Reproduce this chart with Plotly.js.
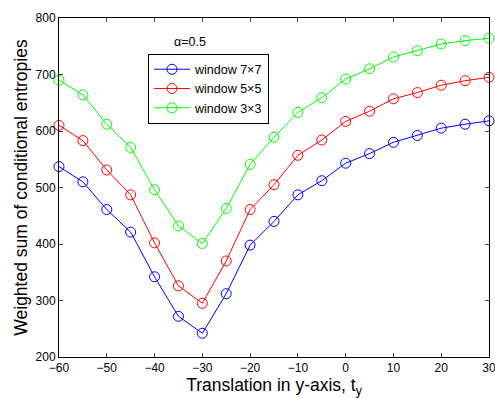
<!DOCTYPE html>
<html><head><meta charset="utf-8">
<script src="https://cdn.plot.ly/plotly-3.0.1.min.js"></script>
<style>html,body{margin:0;padding:0;background:#fff}#chart{width:495px;height:398px}</style>
</head><body><div id="chart"></div>
<script>
const tx = [-60,-55,-50,-45,-40,-35,-30,-25,-20,-15,-10,-5,0,5,10,15,20,25,30];
const win7 = [537,510,461,421,342,272,242,312,398,440,487,512,543,560,580,592,605,612,618];
const win5 = [610,583,531,487,402,326,295,370,461,505,557,584,617,635,657,668,681,689,695];
const win3 = [690,664,612,571,496,432,401,463,541,589,633,659,692,710,731,742,754,760,764];
const names = ['window 7\u00d77','window 5\u00d75','window 3\u00d73'];
const colors = ['#0000ff','#ff0000','#00ff00'];
const series = [win7, win5, win3];
const traces = series.map((y,i)=>({
  x: tx, y: y, name: names[i], type:'scatter', mode:'lines+markers', cliponaxis:false,
  line:{color:colors[i], width:1},
  marker:{symbol:'circle-open', size:10, color:colors[i], line:{width:1, color:colors[i]}}
}));
const layout = {
  width:495, height:398,
  margin:{l:59, r:6, t:18, b:41},
  paper_bgcolor:'#fff', plot_bgcolor:'#fff',
  font:{family:'Liberation Sans, Arial, sans-serif', color:'#000', size:12},
  showlegend:true,
  legend:{x:0.207, y:0.895, xanchor:'left', yanchor:'top', bgcolor:'#fff', bordercolor:'#000', borderwidth:1,
    font:{size:12.5}, tracegroupgap:0, itemwidth:36},
  xaxis:{range:[-60,30], tickvals:[-60,-50,-40,-30,-20,-10,0,10,20,30], ticks:'inside', ticklen:4,
    ticklabeloverflow:'allow',
    showline:true, linecolor:'#000', linewidth:1, mirror:'ticks', showgrid:false, zeroline:false,
    tickfont:{size:12}, title:{text:'Translation in y-axis, t<sub>y</sub>', font:{size:17.5}, standoff:1}},
  yaxis:{range:[200,800], tickvals:[200,300,400,500,600,700,800], ticks:'inside', ticklen:4,
    ticklabeloverflow:'allow',
    showline:true, linecolor:'#000', linewidth:1, mirror:'ticks', showgrid:false, zeroline:false,
    tickfont:{size:12}, title:{text:'Weighted sum of conditional entropies', font:{size:17.5}, standoff:3}},
  annotations:[{x:0.305, y:0.93, xref:'paper', yref:'paper', text:'\u03b1=0.5', showarrow:false,
    font:{size:12.5}, xanchor:'center', yanchor:'middle'}]
};
Plotly.newPlot('chart', traces, layout, {displayModeBar:false, staticPlot:true});
</script></body></html>
